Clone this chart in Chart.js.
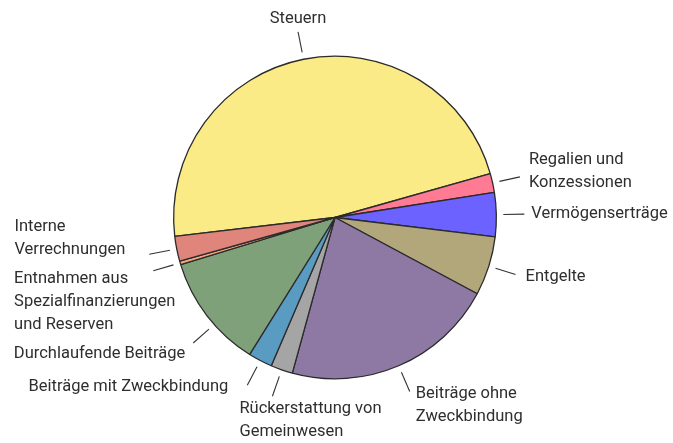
<!DOCTYPE html>
<html>
<head>
<meta charset="utf-8">
<script src="https://cdn.jsdelivr.net/npm/chart.js@4"></script>
<style>
  html, body { margin: 0; padding: 0; background: #fff; }
  #wrap { width: 673px; height: 443px; }
</style>
</head>
<body>
<div id="wrap"><canvas id="pieChart"></canvas></div>
<script>
// Kategorien (Reihenfolge im Uhrzeigersinn ab Steuern)
const categories = [
    ['Steuern'],
    ['Regalien und', 'Konzessionen'],
    ['Vermögenserträge'],
    ['Entgelte'],
    ['Beiträge ohne', 'Zweckbindung'],
    ['Rückerstattung von', 'Gemeinwesen'],
    ['Beiträge mit Zweckbindung'],
    ['Durchlaufende Beiträge'],
    ['Entnahmen aus', 'Spezialfinanzierungen', 'und Reserven'],
    ['Interne', 'Verrechnungen']
];
// Anteile in %
const shares = [47.4, 1.9, 4.4, 5.9, 21.4, 2.2, 2.4, 11.4, 0.35, 2.5];
const sliceColors = [
    '#faeb87', '#ff7a93', '#6b62ff', '#b2a67b', '#8e78a4',
    '#a5a5a5', '#5a9bc2', '#7ea17a', '#f2a57e', '#df857b'
];

// Platzierung der Beschriftungen relativ zum Ende der Hinweislinie
// anchor: l = Block links, r = Block rechts, c = zentriert; dy = Mitte der ersten Zeile
const labelLayout = [
    { anchor: 'c', dx: 0, dy: -13 },
    { anchor: 'l', dx: 9, dy: -17 },
    { anchor: 'l', dx: 7, dy: 0 },
    { anchor: 'l', dx: 10, dy: 2 },
    { anchor: 'l', dx: 6, dy: 2 },
    { anchor: 'l', dx: -33, dy: 13 },
    { anchor: 'r', dx: -19, dy: 2 },
    { anchor: 'r', dx: -8, dy: 11, shift: -4 },
    { anchor: 'r', dx: 22, dy: 8 },
    { anchor: 'r', dx: -24, dy: -27 }
];

const FONT = '16.5px Roboto, "Noto Sans", sans-serif';
const LINE_H = 23;

const leaderLabels = {
    id: 'leaderLabels',
    afterDraw(chart) {
        const ctx = chart.ctx;
        const arcs = chart.getDatasetMeta(0).data;
        ctx.save();
        ctx.font = FONT;
        ctx.textBaseline = 'middle';
        arcs.forEach((arc, i) => {
            const p = arc.getProps(['x', 'y', 'startAngle', 'endAngle', 'outerRadius'], true);
            const lay = labelLayout[i];
            const mid = (p.startAngle + p.endAngle) / 2 + (lay.shift || 0) * Math.PI / 180;
            const r1 = p.outerRadius + 7, r2 = p.outerRadius + 28;
            const x1 = p.x + Math.cos(mid) * r1, y1 = p.y + Math.sin(mid) * r1;
            const x2 = p.x + Math.cos(mid) * r2, y2 = p.y + Math.sin(mid) * r2;
            ctx.strokeStyle = '#333';
            ctx.lineWidth = 1.1;
            ctx.beginPath();
            ctx.moveTo(x1, y1);
            ctx.lineTo(x2, y2);
            ctx.stroke();

            const lines = categories[i];
            const w = Math.max(...lines.map(t => ctx.measureText(t).width));
            let left;
            if (lay.anchor === 'l') left = x2 + lay.dx;
            else if (lay.anchor === 'r') left = x2 + lay.dx - w;
            else left = x2 + lay.dx - w / 2;
            ctx.fillStyle = '#2e2e2e';
            ctx.textAlign = 'left';
            lines.forEach((t, k) => {
                ctx.fillText(t, left, y2 + lay.dy + k * LINE_H);
            });
        });
        ctx.restore();
    }
};

new Chart(document.getElementById('pieChart'), {
    type: 'pie',
    data: {
        labels: categories.map(c => c.join(' ')),
        datasets: [{
            data: shares,
            backgroundColor: sliceColors,
            borderColor: '#2b2b2b',
            borderWidth: 1.3
        }]
    },
    options: {
        responsive: true,
        maintainAspectRatio: false,
        animation: false,
        rotation: 263.3,
        layout: {
            padding: { left: 173, right: 176, top: 55, bottom: 63 }
        },
        plugins: {
            legend: { display: false },
            tooltip: { enabled: false }
        }
    },
    plugins: [leaderLabels]
});
</script>
</body>
</html>
